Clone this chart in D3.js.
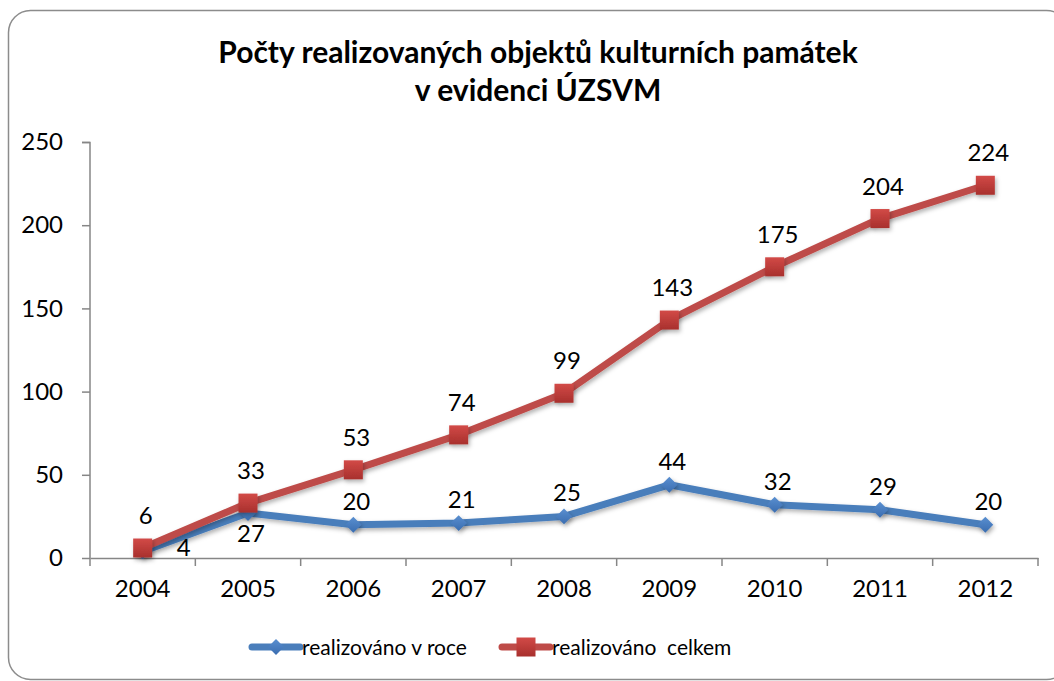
<!DOCTYPE html>
<html><head><meta charset="utf-8">
<script src="https://cdn.jsdelivr.net/npm/d3@7"></script>
<style>
html,body{margin:0;padding:0;background:#fff;}
text{font-family:Lato,"Open Sans",sans-serif;fill:#000;}
</style></head>
<body><svg id="c" width="1054" height="681"></svg>
<script>
const years = ["2004","2005","2006","2007","2008","2009","2010","2011","2012"];
const rocne = [4,27,20,21,25,44,32,29,20];
const celkem = [6,33,53,74,99,143,175,204,224];
const yTicks = [0,50,100,150,200,250];
const rocneLabelPos = ["right","below","above","above","above","above","above","above","above"];
const titleLines = ["Počty realizovaných objektů kulturních památek","v evidenci ÚZSVM"];
const seriesNames = ["realizováno v roce","realizováno  celkem"];

const svg = d3.select("#c");
const defs = svg.append("defs");
const f = defs.append("filter").attr("id","sh").attr("x","-50%").attr("y","-50%").attr("width","200%").attr("height","200%");
f.append("feDropShadow").attr("dx",1.5).attr("dy",2.5).attr("stdDeviation",2).attr("flood-color","#000").attr("flood-opacity",0.3);
const gr = defs.append("linearGradient").attr("id","rg").attr("x1",0).attr("y1",0).attr("x2",0).attr("y2",1);
gr.append("stop").attr("offset","0%").attr("stop-color","#d24a47");
gr.append("stop").attr("offset","100%").attr("stop-color","#a8302d");
const gb = defs.append("linearGradient").attr("id","bg").attr("x1",0).attr("y1",0).attr("x2",0).attr("y2",1);
gb.append("stop").attr("offset","0%").attr("stop-color","#5a8fd0");
gb.append("stop").attr("offset","100%").attr("stop-color","#3a6db0");

svg.append("rect").attr("x",8.5).attr("y",10.5).attr("width",1060).attr("height",669)
  .attr("rx",22).attr("fill","#fff").attr("stroke","#8c8c8c").attr("stroke-width",1.5);

const x = d3.scaleBand().domain(years).range([90,1038]);
const y = d3.scaleLinear().domain([0,250]).range([558,142]);

svg.append("g").selectAll("text").data(titleLines).join("text")
  .attr("x",538).attr("y",(d,i)=>63+i*38).attr("text-anchor","middle")
  .attr("font-size",30).attr("font-weight","bold").text(d=>d);

const ax = svg.append("g").attr("transform","translate(0,558)")
  .call(d3.axisBottom(x).tickSize(0).tickPadding(22));
ax.select(".domain").attr("stroke","#868686").attr("stroke-width",1.5);
ax.selectAll("text").attr("font-size",24).style("font-family","Lato,sans-serif").attr("fill","#000");
ax.selectAll("line.bt").data(d3.range(years.length+1)).join("line").attr("class","bt")
  .attr("x1",i=>90+i*x.step()).attr("x2",i=>90+i*x.step()).attr("y1",0).attr("y2",8)
  .attr("stroke","#868686").attr("stroke-width",1.5);

const ay = svg.append("g").attr("transform","translate(90,0)")
  .call(d3.axisLeft(y).tickValues(yTicks).tickSize(8).tickPadding(19));
ay.select(".domain").attr("stroke","#868686").attr("stroke-width",1.5).attr("d","M-8,142.5H0V558");
ay.selectAll("line").attr("stroke","#868686").attr("stroke-width",1.5);
ay.selectAll("text").attr("font-size",24).style("font-family","Lato,sans-serif").attr("fill","#000");

const cx = d => x(d)+x.bandwidth()/2;
const line = d3.line().x(d=>cx(d.k)).y(d=>y(d.v));
const dataB = years.map((k,i)=>({k,v:rocne[i],p:rocneLabelPos[i]}));
const dataR = years.map((k,i)=>({k,v:celkem[i]}));

svg.append("path").datum(dataB).attr("d",line).attr("fill","none")
  .attr("stroke","#4a7ebb").attr("stroke-width",7).attr("stroke-linejoin","round").attr("filter","url(#sh)");
svg.append("g").selectAll("path").data(dataB).join("path")
  .attr("d",d3.symbol(d3.symbolDiamond2,160)).attr("transform",d=>`translate(${cx(d.k)},${y(d.v)})`)
  .attr("fill","url(#bg)").attr("filter","url(#sh)");
svg.append("path").datum(dataR).attr("d",line).attr("fill","none")
  .attr("stroke","#be4b48").attr("stroke-width",7).attr("stroke-linejoin","round").attr("filter","url(#sh)");
svg.append("g").selectAll("rect").data(dataR).join("rect")
  .attr("x",d=>cx(d.k)-9.5).attr("y",d=>y(d.v)-9.5).attr("width",19).attr("height",19)
  .attr("fill","url(#rg)").attr("filter","url(#sh)");

svg.append("g").selectAll("text").data(dataR).join("text")
  .attr("x",d=>cx(d.k)+3).attr("y",d=>y(d.v)-24).attr("text-anchor","middle")
  .attr("font-size",24).text(d=>d.v);
svg.append("g").selectAll("text").data(dataB).join("text")
  .attr("x",d=>d.p==="right"?cx(d.k)+34:cx(d.k)+3)
  .attr("y",d=>d.p==="below"?y(d.v)+29:d.p==="right"?y(d.v)+5:y(d.v)-15)
  .attr("text-anchor",d=>d.p==="right"?"start":"middle")
  .attr("font-size",24).text(d=>d.v);

const lg = svg.append("g");
const lx = [252,502];
const colors = ["#4a7ebb","#be4b48"];
lx.forEach((x0,i)=>{
  lg.append("line").attr("x1",x0).attr("x2",x0+48).attr("y1",647).attr("y2",647)
    .attr("stroke",colors[i]).attr("stroke-width",7).attr("stroke-linecap","round");
  if(i===0){
    lg.append("path").attr("d",d3.symbol(d3.symbolDiamond2,160)).attr("transform",`translate(${x0+24},647)`).attr("fill","url(#bg)");
  } else {
    lg.append("rect").attr("x",x0+14.5).attr("y",637.5).attr("width",19).attr("height",19).attr("fill","url(#rg)");
  }
  lg.append("text").attr("x",x0+50).attr("y",655).attr("font-size",21)
    .style("white-space","pre").text(seriesNames[i]);
});
</script></body></html>
